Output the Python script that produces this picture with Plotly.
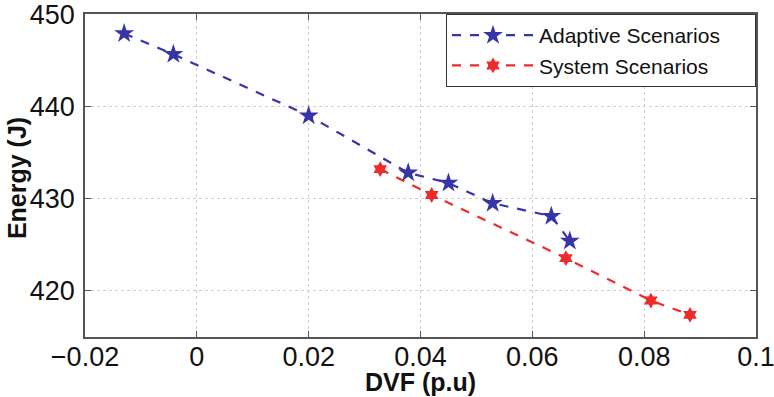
import plotly.graph_objects as go

adaptive_dvf = [-0.013, -0.0042, 0.020, 0.0378, 0.045, 0.0529, 0.0634, 0.0667]
adaptive_energy = [447.9, 445.65, 439.0, 432.8, 431.7, 429.5, 428.1, 425.4]
system_dvf = [0.0328, 0.042, 0.066, 0.0812, 0.0882]
system_energy = [433.2, 430.4, 423.55, 418.95, 417.4]

x_ticks = [-0.02, 0, 0.02, 0.04, 0.06, 0.08, 0.1]
x_labels = ["\u22120.02", "0", "0.02", "0.04", "0.06", "0.08", "0.1"]
y_ticks = [420, 430, 440, 450]
x_title = "<b>DVF (p.u)</b>"
y_title = "<b>Energy (J)</b>"
series_names = ["Adaptive Scenarios", "System Scenarios"]

blue = "#3535a8"
red = "#ee2a2a"
font_family = "Liberation Sans, Arial"
pad = "\u00a0" * 5  # right padding inside the legend box

fig = go.Figure()
fig.add_trace(go.Scatter(
    x=adaptive_dvf, y=adaptive_energy, mode="lines+markers",
    name=series_names[0] + pad,
    line=dict(color=blue, width=2.2, dash="dash"),
    marker=dict(symbol="star", size=15, color=blue),
))
fig.add_trace(go.Scatter(
    x=system_dvf, y=system_energy, mode="lines+markers",
    name=series_names[1] + pad,
    line=dict(color=red, width=2.2, dash="dash"),
    marker=dict(symbol="hexagram", size=12, color=red),
))

axis_common = dict(
    showline=True, linecolor="#555555", linewidth=1.5, mirror="allticks",
    ticks="inside", ticklen=6, tickcolor="#555555",
    showgrid=True, gridcolor="#d0d0d0", griddash="dot", gridwidth=1,
    zeroline=False, automargin=False, ticklabeloverflow="allow",
    tickfont=dict(family=font_family, size=27, color="#111111"),
)

fig.update_xaxes(range=[-0.02, 0.1], tickvals=x_ticks, ticktext=x_labels,
                 ticklabelstandoff=-5, **axis_common)
fig.update_yaxes(range=[415, 450.02], tickvals=y_ticks, ticklabelstandoff=3, **axis_common)

title_font = dict(family=font_family, size=25, color="#111111")
fig.add_annotation(text=x_title, xref="paper", yref="paper", x=0.5, y=-0.138,
                   xanchor="center", yanchor="middle", showarrow=False, font=title_font)
fig.add_annotation(text=y_title, xref="paper", yref="paper", x=-0.1013, y=0.492,
                   xanchor="center", yanchor="middle", showarrow=False, textangle=-90,
                   font=title_font)

fig.update_layout(
    width=774, height=397,
    margin=dict(l=85, r=18, t=14, b=60),
    plot_bgcolor="white", paper_bgcolor="white",
    legend=dict(
        x=1, y=1, xanchor="right", yanchor="top",
        bgcolor="white", bordercolor="#333333", borderwidth=1,
        font=dict(family=font_family, size=21, color="#111111"),
        itemwidth=82, tracegroupgap=0,
    ),
)

fig.write_html("out.html", config={"displayModeBar": False},
               post_script="document.body.style.margin='0';")
